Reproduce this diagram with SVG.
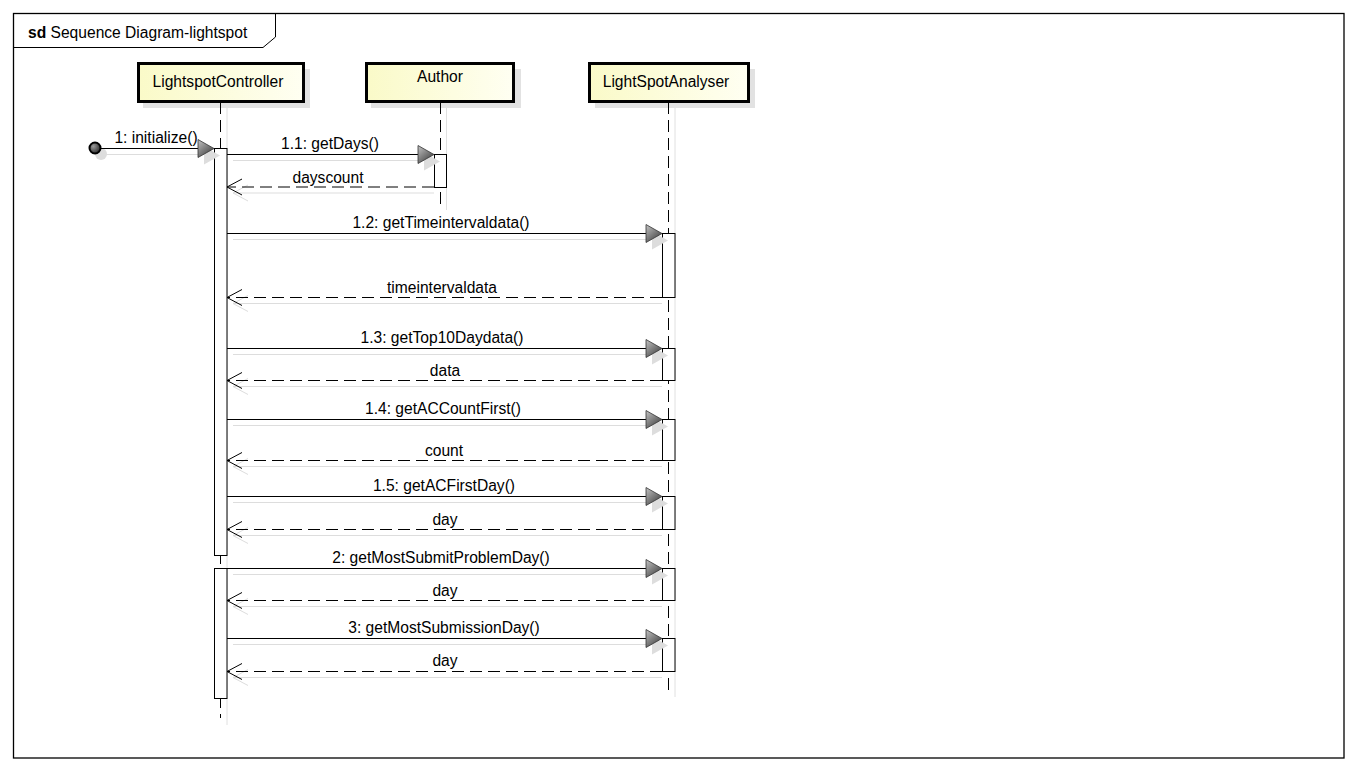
<svg xmlns="http://www.w3.org/2000/svg" width="1357" height="770" viewBox="0 0 1357 770">
  <defs>
    <linearGradient id="headFill" x1="0" y1="0" x2="1" y2="0">
      <stop offset="0" stop-color="#FAFAC8"/>
      <stop offset="1" stop-color="#FFFFF2"/>
    </linearGradient>
    <linearGradient id="arrowFill" x1="0" y1="0" x2="0.8" y2="1">
      <stop offset="0" stop-color="#C4C4C4"/>
      <stop offset="1" stop-color="#3C3C3C"/>
    </linearGradient>
    <radialGradient id="dotFill" cx="0.35" cy="0.35" r="0.7">
      <stop offset="0" stop-color="#9A9A9A"/>
      <stop offset="1" stop-color="#2A2A2A"/>
    </radialGradient>
  </defs>
  <style>
    text { font-family: "Liberation Sans", Arial, sans-serif; font-size: 15.6px; fill: #000; }
    .mid { text-anchor: middle; }
    .head { fill: url(#headFill); stroke: #000; stroke-width: 3; }
    .headShadow { fill: #E2E2E2; stroke: none; }
    .life { stroke: #000; stroke-width: 1; stroke-dasharray: 12 6; fill: none; }
    .lifeShadow { stroke: #E0E0E0; stroke-width: 1; fill: none; }
    .act { fill: #fff; stroke: #000; stroke-width: 1; }
    .msg { stroke: #000; stroke-width: 1; fill: none; }
    .ret { stroke: #000; stroke-width: 1; stroke-dasharray: 12 6; fill: none; }
    .sh { stroke: #DDDDDD; stroke-width: 1; fill: none; }
    .arrow { fill: url(#arrowFill); stroke: #333; stroke-width: 0.8; }
    .arrowSh { fill: #DDDDDD; stroke: none; }
    .open { stroke: #000; stroke-width: 1; fill: none; }
  </style>

  <rect width="1357" height="770" fill="#fff"/>

  <!-- frame -->
  <g id="frame">
    <rect x="13.5" y="13.5" width="1330.5" height="744.5" fill="none" stroke="#000" stroke-width="1.3"/>
    <path d="M13.5,47.5 H263 L275.5,37 V13.5" fill="none" stroke="#000" stroke-width="1"/>
    <text x="28" y="38"><tspan font-weight="bold">sd</tspan> Sequence Diagram-lightspot</text>
  </g>

  <!-- LightspotController lifeline -->
  <g id="lightspotController">
    <rect class="headShadow" x="143" y="69" width="167" height="39"/>
    <line class="lifeShadow" x1="227" y1="108" x2="227" y2="725"/>
    <line class="life" x1="220.5" y1="102" x2="220.5" y2="718"/>
    <rect class="head" x="138.5" y="63.5" width="165" height="38"/>
    <text class="mid" x="218" y="87">LightspotController</text>
    <rect class="act" x="214.5" y="148.5" width="12.5" height="407"/>
    <rect class="act" x="214.5" y="568.5" width="12.5" height="130"/>
  </g>

  <!-- Author lifeline -->
  <g id="author">
    <rect class="headShadow" x="371" y="69" width="150" height="39"/>
    <line class="lifeShadow" x1="446.5" y1="108" x2="446.5" y2="210"/>
    <line class="life" x1="440.5" y1="102" x2="440.5" y2="207"/>
    <rect class="head" x="366.5" y="63.5" width="147" height="38"/>
    <text class="mid" x="440" y="82">Author</text>
    <rect class="act" x="434.5" y="154.5" width="12" height="33"/>
  </g>

  <!-- LightSpotAnalyser lifeline -->
  <g id="lightSpotAnalyser">
    <rect class="headShadow" x="595" y="69" width="160" height="39"/>
    <line class="lifeShadow" x1="675" y1="108" x2="675" y2="697"/>
    <line class="life" x1="668.5" y1="102" x2="668.5" y2="692"/>
    <rect class="head" x="589.5" y="63.5" width="159" height="38"/>
    <text class="mid" x="666" y="87">LightSpotAnalyser</text>
    <rect class="act" x="662.5" y="233.5" width="12.5" height="64"/>
    <rect class="act" x="662.5" y="348.5" width="12.5" height="32"/>
    <rect class="act" x="662.5" y="419.5" width="12.5" height="41"/>
    <rect class="act" x="662.5" y="496.5" width="12.5" height="33"/>
    <rect class="act" x="662.5" y="568.5" width="12.5" height="32"/>
    <rect class="act" x="662.5" y="638.5" width="12.5" height="33"/>
  </g>

  <!-- messages -->
  <g id="connectors">
    <!-- 1: initialize() from the found-message dot -->
    <line class="sh" x1="102" y1="154.5" x2="205" y2="154.5"/>
    <circle cx="101" cy="154" r="6" fill="#DDDDDD"/>
    <polygon class="arrowSh" points="220,155.5 204,146.5 204,164.5"/>
    <line class="msg" x1="95" y1="148.5" x2="200" y2="148.5"/>
    <circle cx="95" cy="148" r="5.5" fill="url(#dotFill)" stroke="#000" stroke-width="2"/>
    <polygon class="arrow" points="214,148.5 198,139.5 198,157.5"/>
    <text class="mid" x="156" y="143">1: initialize()</text>

    <!-- 1.1: getDays() -->
    <line class="sh" x1="233" y1="160.5" x2="425" y2="160.5"/>
    <polygon class="arrowSh" points="440,161.5 424,152.5 424,170.5"/>
    <line class="msg" x1="227" y1="154.5" x2="420" y2="154.5"/>
    <polygon class="arrow" points="434,154.5 418,145.5 418,163.5"/>
    <text class="mid" x="330" y="149">1.1: getDays()</text>

    <!-- dayscount -->
    <line class="sh" x1="233" y1="193" x2="434" y2="193"/>
    <polyline class="sh" points="248,185 233,193 248,201"/>
    <line class="ret" x1="434" y1="187" x2="227" y2="187"/>
    <polyline class="open" points="242,179 227,187 242,195"/>
    <text class="mid" x="328" y="183">dayscount</text>

    <!-- 1.2: getTimeintervaldata() -->
    <line class="sh" x1="233" y1="239.5" x2="653" y2="239.5"/>
    <polygon class="arrowSh" points="668,240.5 652,231.5 652,249.5"/>
    <line class="msg" x1="227" y1="233.5" x2="648" y2="233.5"/>
    <polygon class="arrow" points="662,233.5 646,224.5 646,242.5"/>
    <text class="mid" x="441" y="228">1.2: getTimeintervaldata()</text>

    <!-- timeintervaldata -->
    <line class="sh" x1="233" y1="303.5" x2="662" y2="303.5"/>
    <polyline class="sh" points="248,295.5 233,303.5 248,311.5"/>
    <line class="ret" x1="662" y1="297.5" x2="227" y2="297.5"/>
    <polyline class="open" points="242,289.5 227,297.5 242,305.5"/>
    <text class="mid" x="442" y="293">timeintervaldata</text>

    <!-- 1.3: getTop10Daydata() -->
    <line class="sh" x1="233" y1="354.5" x2="653" y2="354.5"/>
    <polygon class="arrowSh" points="668,355.5 652,346.5 652,364.5"/>
    <line class="msg" x1="227" y1="348.5" x2="648" y2="348.5"/>
    <polygon class="arrow" points="662,348.5 646,339.5 646,357.5"/>
    <text class="mid" x="442" y="343">1.3: getTop10Daydata()</text>

    <!-- data -->
    <line class="sh" x1="233" y1="386.5" x2="662" y2="386.5"/>
    <polyline class="sh" points="248,378.5 233,386.5 248,394.5"/>
    <line class="ret" x1="662" y1="380.5" x2="227" y2="380.5"/>
    <polyline class="open" points="242,372.5 227,380.5 242,388.5"/>
    <text class="mid" x="445" y="376">data</text>

    <!-- 1.4: getACCountFirst() -->
    <line class="sh" x1="233" y1="425.5" x2="653" y2="425.5"/>
    <polygon class="arrowSh" points="668,426.5 652,417.5 652,435.5"/>
    <line class="msg" x1="227" y1="419.5" x2="648" y2="419.5"/>
    <polygon class="arrow" points="662,419.5 646,410.5 646,428.5"/>
    <text class="mid" x="443" y="414">1.4: getACCountFirst()</text>

    <!-- count -->
    <line class="sh" x1="233" y1="466.5" x2="662" y2="466.5"/>
    <polyline class="sh" points="248,458.5 233,466.5 248,474.5"/>
    <line class="ret" x1="662" y1="460.5" x2="227" y2="460.5"/>
    <polyline class="open" points="242,452.5 227,460.5 242,468.5"/>
    <text class="mid" x="444" y="456">count</text>

    <!-- 1.5: getACFirstDay() -->
    <line class="sh" x1="233" y1="502.5" x2="653" y2="502.5"/>
    <polygon class="arrowSh" points="668,503.5 652,494.5 652,512.5"/>
    <line class="msg" x1="227" y1="496.5" x2="648" y2="496.5"/>
    <polygon class="arrow" points="662,496.5 646,487.5 646,505.5"/>
    <text class="mid" x="444" y="491">1.5: getACFirstDay()</text>

    <!-- day -->
    <line class="sh" x1="233" y1="535.5" x2="662" y2="535.5"/>
    <polyline class="sh" points="248,527.5 233,535.5 248,543.5"/>
    <line class="ret" x1="662" y1="529.5" x2="227" y2="529.5"/>
    <polyline class="open" points="242,521.5 227,529.5 242,537.5"/>
    <text class="mid" x="445" y="525">day</text>

    <!-- 2: getMostSubmitProblemDay() -->
    <line class="sh" x1="233" y1="574.5" x2="653" y2="574.5"/>
    <polygon class="arrowSh" points="668,575.5 652,566.5 652,584.5"/>
    <line class="msg" x1="227" y1="568.5" x2="648" y2="568.5"/>
    <polygon class="arrow" points="662,568.5 646,559.5 646,577.5"/>
    <text class="mid" x="441" y="563">2: getMostSubmitProblemDay()</text>

    <!-- day -->
    <line class="sh" x1="233" y1="606.5" x2="662" y2="606.5"/>
    <polyline class="sh" points="248,598.5 233,606.5 248,614.5"/>
    <line class="ret" x1="662" y1="600.5" x2="227" y2="600.5"/>
    <polyline class="open" points="242,592.5 227,600.5 242,608.5"/>
    <text class="mid" x="445" y="596">day</text>

    <!-- 3: getMostSubmissionDay() -->
    <line class="sh" x1="233" y1="644.5" x2="653" y2="644.5"/>
    <polygon class="arrowSh" points="668,645.5 652,636.5 652,654.5"/>
    <line class="msg" x1="227" y1="638.5" x2="648" y2="638.5"/>
    <polygon class="arrow" points="662,638.5 646,629.5 646,647.5"/>
    <text class="mid" x="444" y="633">3: getMostSubmissionDay()</text>

    <!-- day -->
    <line class="sh" x1="233" y1="677.5" x2="662" y2="677.5"/>
    <polyline class="sh" points="248,669.5 233,677.5 248,685.5"/>
    <line class="ret" x1="662" y1="671.5" x2="227" y2="671.5"/>
    <polyline class="open" points="242,663.5 227,671.5 242,679.5"/>
    <text class="mid" x="445" y="666">day</text>
  </g>
</svg>
